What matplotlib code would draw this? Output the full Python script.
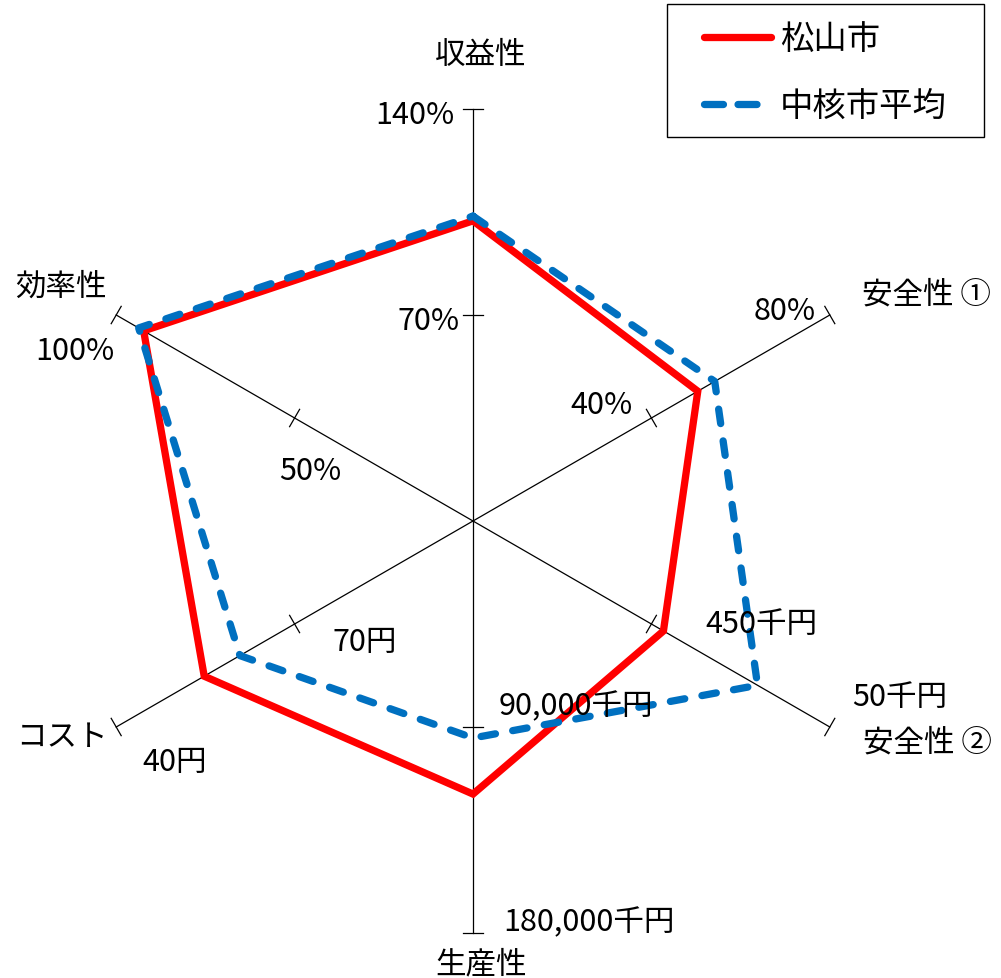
import numpy as np
import matplotlib
matplotlib.use("Agg")
import matplotlib.pyplot as plt
from matplotlib.patches import Rectangle

plt.rcParams['font.family'] = ['Noto Sans CJK JP', 'DejaVu Sans']

# ---- data -------------------------------------------------------------
categories = ['収益性', '安全性 ①', '安全性 ②', '生産性', 'コスト', '効率性']
angles_deg = [90, 30, -30, -90, -150, 150]

# value at the centre and at the outer end of each spoke
scale_center = [0, 0, 850, 0, 100, 0]
scale_outer = [140, 80, 50, 180000, 40, 100]

mid_labels = ['70%', '40%', '450千円', '90,000千円', '70円', '50%']
outer_labels = ['140%', '80%', '50千円', '180,000千円', '40円', '100%']

series_names = ['松山市', '中核市平均']
matsuyama = [102, 50.4, 423, 119300, 54.8, 92.3]
chukaku_avg = [103.6, 54.2, 212, 94800, 60.8, 93.7]

RED = '#FF0000'
BLUE = '#0070C0'
LW = 5.25
DASH = (0, (2.0, 2.4))

# ---- figure -----------------------------------------------------------
W, H = 1001, 979
CX, CY, R = 473, 522, 412          # centre and spoke length in pixels
fig = plt.figure(figsize=(W / 100, H / 100), dpi=100)
ax = fig.add_axes([0, 0, 1, 1])
ax.set_xlim(-CX / R, (W - CX) / R)
ax.set_ylim(-(H - CY) / R, CY / R)
ax.axis('off')

theta = np.deg2rad(angles_deg)


def normalise(values):
    v = np.asarray(values, float)
    c = np.asarray(scale_center, float)
    o = np.asarray(scale_outer, float)
    return (v - c) / (o - c)


# spokes with tick marks at the half and full length
tick_half = 10 / R
for t in theta:
    ax.plot([0, np.cos(t)], [0, np.sin(t)], color='black', lw=0.9, zorder=1)
    px, py = -np.sin(t), np.cos(t)
    for frac in (0.5, 1.0):
        x0, y0 = frac * np.cos(t), frac * np.sin(t)
        ax.plot([x0 - px * tick_half, x0 + px * tick_half],
                [y0 - py * tick_half, y0 + py * tick_half],
                color='black', lw=0.9, zorder=1)


def draw_series(values, **kw):
    r = normalise(values)
    x = np.append(r * np.cos(theta), r[0] * np.cos(theta[0]))
    y = np.append(r * np.sin(theta), r[0] * np.sin(theta[0]))
    return ax.plot(x, y, **kw)[0]


draw_series(matsuyama, color=RED, lw=LW, solid_joinstyle='miter',
            solid_capstyle='round', zorder=3)
draw_series(chukaku_avg, color=BLUE, lw=LW, linestyle=DASH,
            dash_capstyle='round', dash_joinstyle='round', zorder=4)

# ---- overlay in pixel coordinates (origin top-left) for text/legend ----
ov = fig.add_axes([0, 0, 1, 1])
ov.set_xlim(0, W)
ov.set_ylim(H, 0)
ov.axis('off')
ov.patch.set_alpha(0)

FS = 22


def label(text, x, y, ha='center', fs=FS):
    ov.text(x, y, text, ha=ha, va='center', fontsize=fs, color='black')


# category names
label(categories[0], 481, 55)
label(categories[1], 862, 295, ha='left')
label(categories[2], 863, 743, ha='left')
label(categories[3], 481, 965)
label(categories[4], 62, 738)
label(categories[5], 61, 287)

# scale labels: (mid, outer)
label(mid_labels[0], 460, 322, ha='right')
label(outer_labels[0], 455, 115, ha='right')
label(mid_labels[1], 633, 406, ha='right')
label(outer_labels[1], 785, 312)
label(mid_labels[2], 705, 625, ha='left')
label(outer_labels[2], 852, 698, ha='left')
label(mid_labels[3], 499, 707, ha='left')
label(outer_labels[3], 503, 923, ha='left')
label(mid_labels[4], 365, 643)
label(outer_labels[4], 175, 763)
label(mid_labels[5], 310, 472)
label(outer_labels[5], 75, 352)

# ---- legend box -------------------------------------------------------
ov.add_patch(Rectangle((667, 5), 317, 133, facecolor='white',
                       edgecolor='black', lw=1.0, zorder=5))
ov.plot([704, 771], [38, 38], color=RED, lw=LW, solid_capstyle='round',
        zorder=6)
ov.plot([704, 771], [105, 105], color=BLUE, lw=LW,
        linestyle=(0, (2.6, 2.0)), dash_capstyle='round', zorder=6)
ov.text(780, 40, series_names[0], ha='left', va='center', fontsize=24,
        zorder=6)
ov.text(780, 106, series_names[1], ha='left', va='center', fontsize=24,
        zorder=6)

fig.savefig('out.png', dpi=100)
